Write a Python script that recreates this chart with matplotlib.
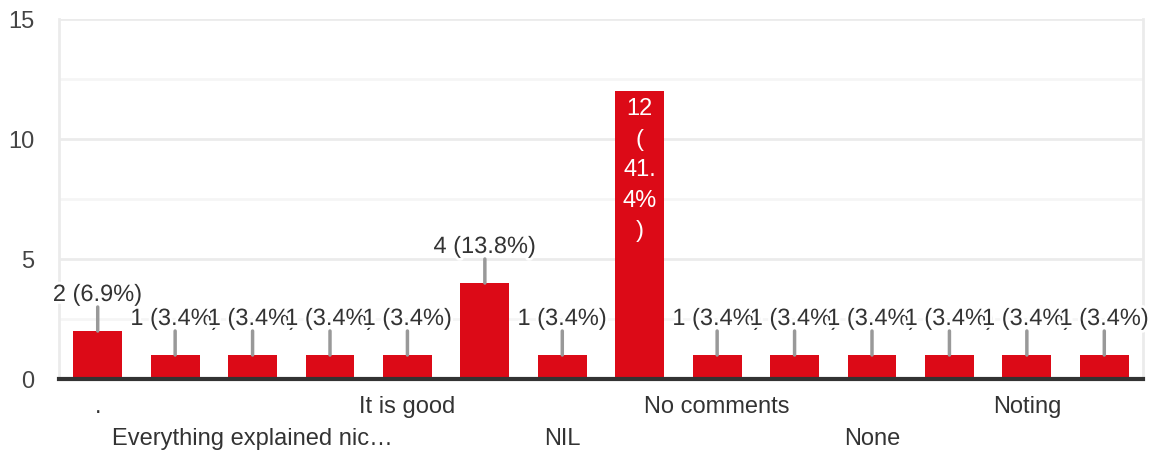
import matplotlib
matplotlib.use("Agg")
import matplotlib.pyplot as plt
import matplotlib.patheffects as pe
import numpy as np

categories = [".", "(blank 2)", "Everything explained nic\u2026", "(blank 4)", "It is good",
              "(blank 6)", "NIL", "(blank 8)", "No comments", "(blank 10)", "None",
              "(blank 12)", "Noting", "(blank 14)"]
values = [2, 1, 1, 1, 1, 4, 1, 12, 1, 1, 1, 1, 1, 1]
y_ticks = [0, 5, 10, 15]

total = sum(values)
plt.rcParams['font.family'] = ['Liberation Sans', 'DejaVu Sans']

fig = plt.figure(figsize=(11.5, 4.55), dpi=100)
ax = fig.add_axes([59/1150, 1-379/455, (1143-59)/1150, (379-19)/455])

x = np.arange(len(values))
red = '#DC0A17'
ax.bar(x, values, width=0.63, color=red, zorder=3)

ax.set_xlim(-0.5, len(values) - 0.5)
ax.set_ylim(0, 15)
ax.set_yticks(y_ticks)
ax.set_yticks([2.5, 7.5, 12.5], minor=True)
ax.yaxis.grid(True, which='major', color='#ebebeb', linewidth=2, zorder=0)
ax.yaxis.grid(True, which='minor', color='#f5f5f5', linewidth=2, zorder=0)
ax.tick_params(axis='y', which='both', length=0, pad=18, labelsize=17, labelcolor='#444444')
for lab in ax.get_yticklabels():
    lab.set_horizontalalignment('right')

for s in ['left', 'right', 'top']:
    ax.spines[s].set_color('#ebebeb')
    ax.spines[s].set_linewidth(2)
ax.spines['top'].set_visible(False)
ax.spines['bottom'].set_color('#333333')
ax.spines['bottom'].set_linewidth(3)
ax.spines['bottom'].set_zorder(4)

ax.set_xticks(x)
ax.set_xticklabels([])
ax.tick_params(axis='x', length=0)

# x category labels, every other one, alternating two rows
for i in range(0, len(categories), 2):
    row = (i // 2) % 2
    ax.annotate(categories[i], xy=(x[i], 0), xycoords='data',
                xytext=(0, -28 - 32 * row), textcoords='offset pixels',
                ha='center', va='center', fontsize=17, color='#333333',
                annotation_clip=False)

halo = [pe.withStroke(linewidth=4, foreground='white')]
for i, v in enumerate(values):
    pct = v / total * 100
    label = f"{v} ({pct:.1f}%)"
    if v >= 10:
        whole, frac = f"{pct:.1f}".split('.')
        txt = f"{v}\n(\n{whole}.\n{frac}%\n)"
        ax.annotate(txt, xy=(x[i], v), xytext=(0, -7), textcoords='offset pixels',
                    ha='center', va='top', fontsize=17, color='white',
                    linespacing=1.5, zorder=5)
    else:
        ax.annotate('', xy=(x[i], v), xytext=(0, 24), textcoords='offset pixels',
                    arrowprops=dict(arrowstyle='-', color='#999999', lw=2.5,
                                    shrinkA=0, shrinkB=0), zorder=4)
        ax.annotate(label, xy=(x[i], v), xytext=(0, 36), textcoords='offset pixels',
                    ha='center', va='center', fontsize=17, color='#333333',
                    path_effects=halo, zorder=5 + i, annotation_clip=False)

fig.savefig('out.png', dpi=100, facecolor='white')
